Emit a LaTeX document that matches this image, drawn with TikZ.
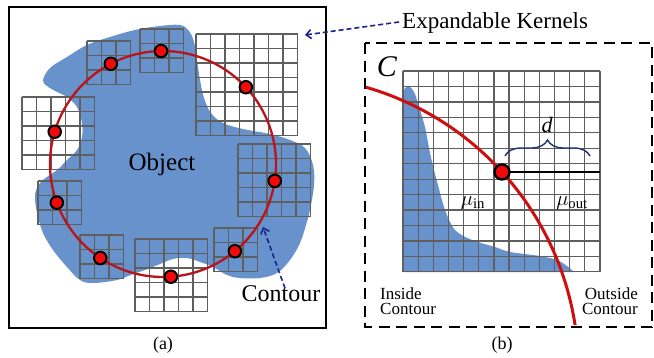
\documentclass[tikz,border=0pt]{standalone}
\usepackage{fontspec}
\setmainfont{Liberation Serif}
\usetikzlibrary{arrows.meta,decorations.pathreplacing}
\definecolor{blobblue}{RGB}{104,146,204}
\definecolor{gridgray}{RGB}{95,95,95}
\definecolor{contred}{RGB}{185,20,25}
\definecolor{arcred}{RGB}{205,15,15}
\definecolor{dotred}{RGB}{240,10,10}
\definecolor{navytwo}{RGB}{25,35,140}
\definecolor{bracecol}{RGB}{30,50,120}
\newcommand\kerngrid[3]{%
  \foreach \k in {0,...,#3}{%
    \draw[gridline] ({#1+\k*14.5},#2) -- ({#1+\k*14.5},{#2+#3*14.5});
    \draw[gridline] (#1,{#2+\k*14.5}) -- ({#1+#3*14.5},{#2+\k*14.5});
  }}
\begin{document}
\begin{tikzpicture}[x=1pt,y=-1pt,
  gridline/.style={draw=gridgray,line width=1.2pt},
  blob/.style={fill=blobblue},
  contour/.style={draw=contred,line width=2.3pt},
  dot/.style={circle,draw=black,fill=dotred,line width=2pt,minimum size=12.5pt,inner sep=0pt},
  bluearrow/.style={draw=navytwo,line width=1.6pt,dash pattern=on 5pt off 3pt,-{Straight Barb[length=5pt,width=9pt]}},
  biglab/.style={font=\fontsize{24}{26}\selectfont,inner sep=0pt},
  smalllab/.style={font=\fontsize{17}{15.5}\selectfont,inner sep=0pt},
  caplab/.style={font=\fontsize{18}{20}\selectfont,inner sep=0pt}]
\useasboundingbox (0,0) rectangle (654,357);
\fill[white] (0,0) rectangle (654,357);

% ---------- panel (a) ----------
\fill[blob] plot[smooth cycle,tension=0.6] coordinates {(43,80) (50,68) (67,57) (87,45) (110,37) (135,30) (160,26) (180,25) (189,31) (194,42) (197,60) (200,80) (204,98) (211,113) (223,123) (243,129) (270,134) (290,140) (305,148) (313,165) (314,185) (310,210) (306,225) (300,243) (290,260) (277,273) (260,278) (240,278) (227,275) (213,267) (200,262) (187,258) (173,259) (160,264) (145,270) (133,274) (117,280) (93,283) (80,280) (67,267) (53,250) (43,233) (37,213) (35,197) (37,188) (43,180) (57,170) (67,160) (77,150) (82,137) (82,123) (77,107) (67,97) (57,92) (47,86)};

\kerngrid{87}{41}{3}
\kerngrid{140}{29}{3}
\kerngrid{196}{34}{7}
\kerngrid{22}{97}{5}
\kerngrid{238}{144}{5}
\kerngrid{38}{181}{3}
\kerngrid{80}{235}{3}
\kerngrid{135}{239}{5}
\kerngrid{214}{228}{3}

\draw[contour] (163,164) circle[radius=113];
\foreach \a/\n in {117.5/da1,91/da2,42.8/da3,163.4/da4,-8.6/da5,200/da6,236.3/da7,274/da8,309.5/da9}
  \node[dot] (\n) at ({163+113*cos(\a)},{164-113*sin(\a)}) {};

\node[biglab,font=\fontsize{25}{27}\selectfont] (obj) at (162,164) {Object};
\node[biglab] (ct) at (281,293.5) {Contour};
\coordinate (cte) at (263,227);
\draw[bluearrow] ([xshift=4pt,yshift=-3pt]ct.north) -- (cte);

\draw[line width=2.6pt] (9,7) rectangle (326,328);
\node[caplab] (capa) at (163,345) {(a)};

% ---------- panel (b) ----------
\fill[blob] plot[smooth] coordinates {(403,95) (405,88) (410,87) (415,94) (420,110) (425,127) (430,153) (434,170) (438,185) (445,210) (455,230) (472,240) (495,247) (510,252) (540,256) (557,260) (567,266) (574,272)} -- (403,272) -- cycle;
\foreach \k in {0,...,13}{%
  \draw[gridline] ({403+\k*15.15},71) -- ({403+\k*15.15},272);
  \draw[gridline] (403,{71+\k*15.45}) -- (600,{71+\k*15.45});
}
\draw[draw=arcred,line width=3pt] plot[domain=-74.1:-8.75,samples=80] ({284.5+294*cos(\x)},{369.7+294*sin(\x)});
\coordinate (pc) at (502,172);
\coordinate (kend) at (600,172);
\draw[line width=2.8pt] (pc) -- (kend);
\node[dot,minimum size=15pt,line width=2.4pt] (pb) at (pc) {};
\draw[draw=bracecol,line width=1.4pt,decorate,decoration={brace,amplitude=16pt}] (505,156) -- (590,156);
\node[font=\fontsize{22}{24}\selectfont\itshape,inner sep=0pt] (dl) at (547,125) {d};
\node[font=\fontsize{21}{22}\selectfont,inner sep=0pt] (muin) at (473,203) {$\mu_{\mathrm{in}}$};
\node[font=\fontsize{21}{22}\selectfont,inner sep=0pt] (muout) at (572,203) {$\mu_{\mathrm{out}}$};
\node[font=\fontsize{30}{30}\selectfont\itshape,inner sep=0pt] (cl) at (387,67) {C};
\node[smalllab,align=left,anchor=north west] (ins) at (380,287) {Inside\\Contour};
\node[smalllab,align=right,anchor=north east] (outs) at (638,287) {Outside\\Contour};
\draw[line width=2.6pt,dash pattern=on 11pt off 6.5pt] (365,43) rectangle (652,327);
\node[caplab] (capb) at (502,345) {(b)};

\node[biglab,font=\fontsize{23}{26}\selectfont,anchor=west] (ek) at (402,23) {Expandable Kernels};
\coordinate (eke) at (305,35);
\draw[bluearrow] ([xshift=-3pt,yshift=1pt]ek.west) -- (eke);
\end{tikzpicture}
\end{document}
